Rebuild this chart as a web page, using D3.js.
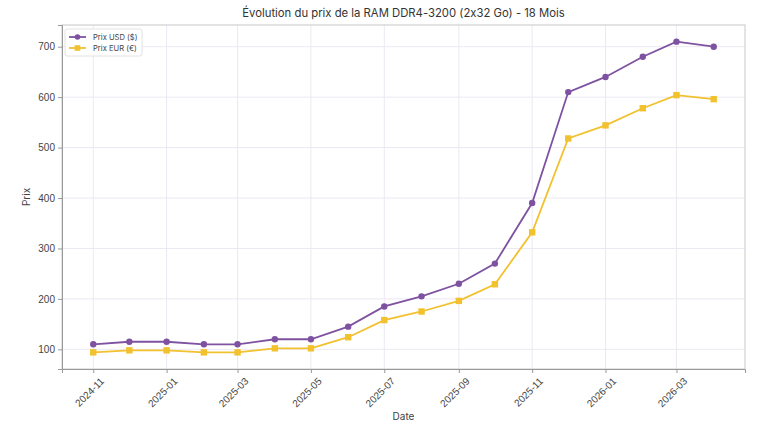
<!DOCTYPE html>
<html>
<head>
<meta charset="utf-8">
<script src="https://cdn.jsdelivr.net/npm/d3@7"></script>
<style>
    body { margin: 0; background: #fff; }
    svg { display: block; font-family: Inter, 'Open Sans', sans-serif; font-feature-settings: 'calt' 0; }
    .tick text { fill: #444; font-size: 10px; }
    .domain { stroke: #999; }
    .tick line { stroke: #999; }
</style>
</head>
<body>
<svg id="chart" width="768" height="432"></svg>
<script>
'use strict';

var months = ['2024-11', '2024-12', '2025-01', '2025-02', '2025-03', '2025-04', '2025-05', '2025-06', '2025-07',
    '2025-08', '2025-09', '2025-10', '2025-11', '2025-12', '2026-01', '2026-02', '2026-03', '2026-04'];
var priceUsd = [110, 115, 115, 110, 110, 120, 120, 145, 185, 205, 230, 270, 390, 610, 640, 680, 710, 700];
var priceEur = [94, 98, 98, 94, 94, 102, 102, 124, 158, 175, 196, 229, 332, 518, 544, 578, 604, 596];
var xTickLabels = ['2024-11', '2025-01', '2025-03', '2025-05', '2025-07', '2025-09', '2025-11', '2026-01', '2026-03'];
var yTicks = [100, 200, 300, 400, 500, 600, 700];

var MARGIN = { top: 25, right: 23, bottom: 63, left: 62 };
var WIDTH = 768 - MARGIN.left - MARGIN.right;
var HEIGHT = 432 - MARGIN.top - MARGIN.bottom;
var USD_COLOR = '#7e52a0';
var EUR_COLOR = '#f2c12e';

var parseMonth = d3.timeParse('%Y-%m');
var dates = months.map(parseMonth);

var svg = d3.select('#chart');
var g = svg.append('g').attr('transform', 'translate(' + MARGIN.left + ',' + MARGIN.top + ')');

var x = d3.scaleTime()
    .domain([d3.timeDay.offset(dates[0], -26), d3.timeDay.offset(dates[dates.length - 1], 26)])
    .range([0, WIDTH]);
var y = d3.scaleLinear().domain([61, 743]).range([HEIGHT, 0]);

// grid
g.append('g').selectAll('line.gy').data(yTicks).enter().append('line')
    .attr('x1', 0).attr('x2', WIDTH)
    .attr('y1', function(d) { return y(d); }).attr('y2', function(d) { return y(d); })
    .attr('stroke', '#ece8f2').attr('stroke-width', 1);
g.append('g').selectAll('line.gx').data(xTickLabels.map(parseMonth)).enter().append('line')
    .attr('x1', function(d) { return x(d); }).attr('x2', function(d) { return x(d); })
    .attr('y1', 0).attr('y2', HEIGHT)
    .attr('stroke', '#ece8f2').attr('stroke-width', 1);

// frame
g.append('rect').attr('width', WIDTH).attr('height', HEIGHT)
    .attr('fill', 'none').attr('stroke', '#c8c8c8');

var xAxis = g.append('g').attr('transform', 'translate(0,' + HEIGHT + ')')
    .call(d3.axisBottom(x).tickValues(xTickLabels.map(parseMonth)).tickFormat(d3.timeFormat('%Y-%m')).tickSizeOuter(0).tickSize(4));
xAxis.selectAll('text')
    .attr('text-anchor', 'end')
    .attr('dx', '-0.2em').attr('dy', '0.35em')
    .attr('transform', 'translate(5,4) rotate(-45)');

g.append('g')
    .call(d3.axisLeft(y).tickValues(yTicks).tickSizeOuter(0).tickSize(4));

function drawSeries(values, color, marker) {
    var line = d3.line()
        .x(function(d, i) { return x(dates[i]); })
        .y(function(d) { return y(d); });
    g.append('path').datum(values)
        .attr('d', line).attr('fill', 'none')
        .attr('stroke', color).attr('stroke-width', 1.8);
    var pts = g.append('g').selectAll('.pt').data(values).enter();
    if (marker === 'circle') {
        pts.append('circle')
            .attr('cx', function(d, i) { return x(dates[i]); })
            .attr('cy', function(d) { return y(d); })
            .attr('r', 3.2).attr('fill', color);
    } else {
        pts.append('rect')
            .attr('x', function(d, i) { return x(dates[i]) - 3.2; })
            .attr('y', function(d) { return y(d) - 3.2; })
            .attr('width', 6.4).attr('height', 6.4).attr('fill', color);
    }
}

drawSeries(priceEur, EUR_COLOR, 'square');
drawSeries(priceUsd, USD_COLOR, 'circle');

// legend
var legend = g.append('g').attr('transform', 'translate(3,4)');
legend.append('rect').attr('width', 77).attr('height', 27)
    .attr('fill', '#fff').attr('fill-opacity', 0.85).attr('stroke', '#e2e2e2').attr('rx', 2);
[['Prix USD ($)', USD_COLOR, 'circle'], ['Prix EUR (€)', EUR_COLOR, 'square']].forEach(function(item, i) {
    var ly = 8 + i * 11;
    legend.append('line').attr('x1', 4).attr('x2', 21).attr('y1', ly).attr('y2', ly)
        .attr('stroke', item[1]).attr('stroke-width', 1.8);
    if (item[2] === 'circle') {
        legend.append('circle').attr('cx', 12.5).attr('cy', ly).attr('r', 2.8).attr('fill', item[1]);
    } else {
        legend.append('rect').attr('x', 9.7).attr('y', ly - 2.8).attr('width', 5.6).attr('height', 5.6).attr('fill', item[1]);
    }
    legend.append('text').attr('x', 28).attr('y', ly).attr('dy', '0.35em')
        .attr('font-size', 7.6).attr('fill', '#444').text(item[0]);
});

// title and axis labels
svg.append('text').attr('x', MARGIN.left + WIDTH / 2).attr('y', 17)
    .attr('text-anchor', 'middle').attr('font-size', 11.3).attr('fill', '#333')
    .text('Évolution du prix de la RAM DDR4-3200 (2x32 Go) - 18 Mois');
svg.append('text').attr('x', MARGIN.left + WIDTH / 2).attr('y', 420)
    .attr('text-anchor', 'middle').attr('font-size', 10).attr('fill', '#444').text('Date');
svg.append('text').attr('transform', 'translate(30,' + (MARGIN.top + HEIGHT / 2) + ') rotate(-90)')
    .attr('text-anchor', 'middle').attr('font-size', 10).attr('fill', '#444').text('Prix');
</script>
</body>
</html>
